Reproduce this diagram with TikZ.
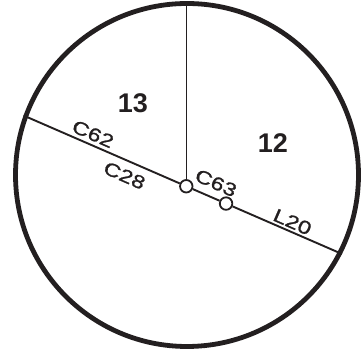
\documentclass[tikz,border=0pt]{standalone}
\usepackage{fontspec}
\setmainfont{Liberation Sans}
\newfontfamily\letterfont[FakeStretch=1.28,FakeBold=1.2]{Liberation Sans}
\usetikzlibrary{calc}
\definecolor{ink}{HTML}{231F20}
\tikzset{
 every node/.append style={text=ink},
 rim/.style={draw=ink,circle,line width=4.8pt,minimum size=343pt,inner sep=0pt},
 joint/.style={draw=ink,fill=white,circle,line width=1.8pt,minimum size=12.5pt,inner sep=0pt},
 zone/.style={font=\fontsize{27}{27}\selectfont\bfseries,inner sep=0pt},
 tag/.style={font=\letterfont\fontsize{18.5}{18.5}\selectfont,rotate=-23.6,inner sep=0pt},
 wire/.style={draw=ink,line width=1.9pt},
 spoke/.style={draw=ink,line width=1.5pt},
}

\begin{document}
\begin{tikzpicture}[x=1pt,y=-1pt]

\useasboundingbox (0,0) rectangle (362,352);
\node[rim] (rim) at (187,175) {};
\coordinate (wl) at (rim.160.9); \coordinate (wr) at (rim.-27.8);
\node[joint] (j1) at ($(wl)!.511!(wr)$) {};
\node[joint] (j2) at ($(wl)!.636!(wr)$) {};
\draw[wire] (wl) -- (j1); \draw[wire] (j1) -- (j2); \draw[wire] (j2) -- (wr);
\draw[spoke] (j1) -- (j1 |- rim.north);
\node[zone] (z13) at (133,103) {13};
\node[zone] (z12) at (273,143) {12};
\node[tag] (c62) at (93,134) {C62};
\node[tag] (c28) at (124.5,175.5) {C28};
\node[tag] (c63) at (216,183) {C63};
\node[tag] (l20) at (292.5,222) {L20};

\end{tikzpicture}
\end{document}
